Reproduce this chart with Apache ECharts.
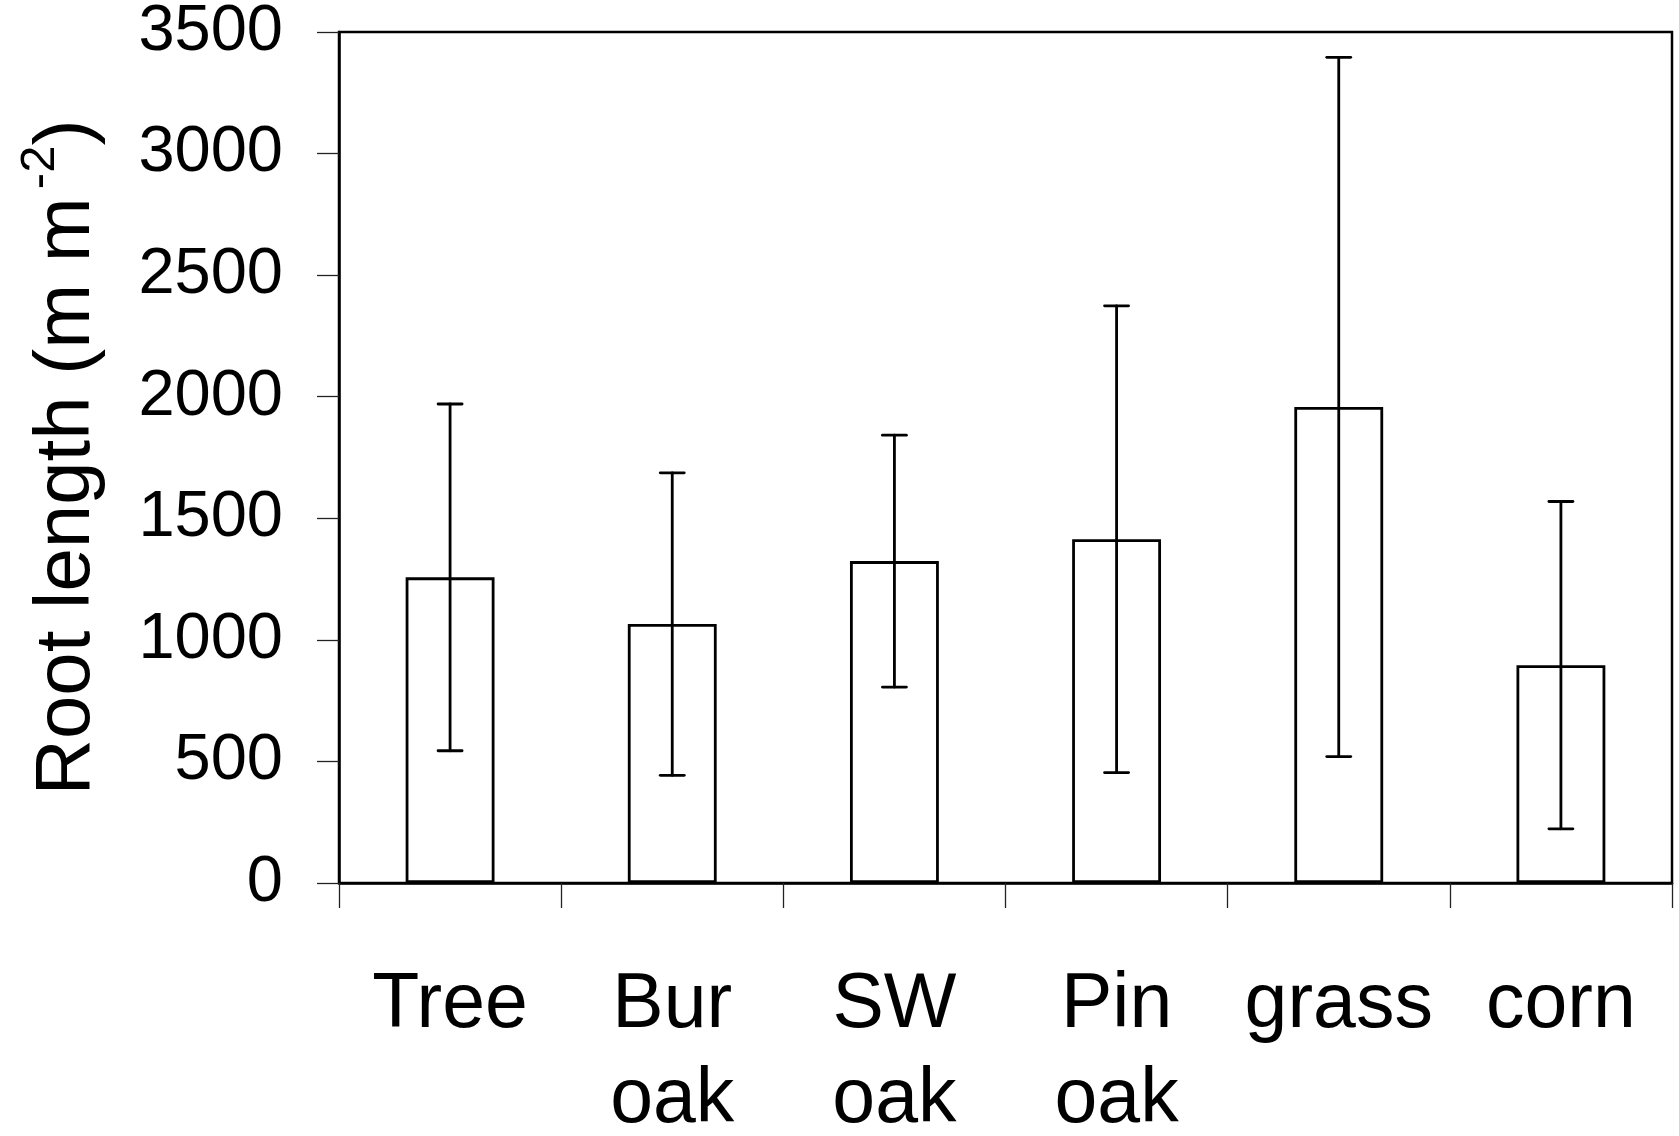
<!DOCTYPE html>
<html>
<head>
<meta charset="utf-8">
<style>
  html, body { margin: 0; padding: 0; background: #fff; }
  #chart { width: 1679px; height: 1136px; }
</style>
<script src="https://cdn.jsdelivr.net/npm/echarts@6/dist/echarts.min.js"></script>
</head>
<body>
<div id="chart"></div>
<script>
// Root length by vegetation type: mean with ± one standard deviation
const categories = ['Tree', 'Bur\noak', 'SW\noak', 'Pin\noak', 'grass', 'corn'];
const meanLength = [1257, 1065, 1324, 1414, 1958, 896];
const sdLength = [713, 622, 518, 960, 1438, 673];
const yTicks = { min: 0, max: 3500, interval: 500 };

const FONT = '"Liberation Sans", Arial, Helvetica, sans-serif';
const INK = '#000';

const errorData = categories.map((c, i) => [i, meanLength[i] - sdLength[i], meanLength[i] + sdLength[i]]);

const chart = echarts.init(document.getElementById('chart'), null, { renderer: 'canvas' });

chart.setOption({
  backgroundColor: '#fff',
  animation: false,
  grid: {
    left: 339, right: 7, top: 32, bottom: 253,
    outerBoundsMode: 'none',
    containLabel: false,
    show: true, borderColor: INK, borderWidth: 2.5, backgroundColor: 'transparent'
  },
  xAxis: {
    type: 'category',
    data: categories,
    boundaryGap: true,
    axisLine: { show: true, lineStyle: { color: INK, width: 2.5 } },
    axisTick: { show: true, inside: false, length: 25, lineStyle: { color: '#222', width: 1.3 } },
    axisLabel: {
      color: INK, fontFamily: FONT, fontSize: 77, lineHeight: 95,
      margin: 75, interval: 0, align: 'center'
    },
    splitLine: { show: false }
  },
  yAxis: {
    type: 'value',
    min: yTicks.min, max: yTicks.max, interval: yTicks.interval,
    axisLine: { show: true, lineStyle: { color: INK, width: 2.5 } },
    axisTick: { show: true, inside: false, length: 22, lineStyle: { color: '#222', width: 1.3 } },
    axisLabel: {
      color: INK, fontFamily: FONT, fontSize: 65, margin: 56,
      formatter: function (v) { return String(v); }
    },
    splitLine: { show: false },
    name: '{main|Root length (m m}{sup|-2}{main|)}',
    nameLocation: 'middle',
    nameRotate: 90,
    nameGap: 233,
    nameTextStyle: {
      fontFamily: FONT, color: INK,
      rich: {
        main: { fontFamily: FONT, fontSize: 78, lineHeight: 90, verticalAlign: 'bottom', color: INK },
        sup: { fontFamily: FONT, fontSize: 49, lineHeight: 34, verticalAlign: 'top', color: INK, padding: [0, 0, 0, 8] }
      }
    }
  },
  series: [
    {
      type: 'bar',
      data: meanLength,
      barWidth: '40%',
      itemStyle: { color: '#fff', borderColor: INK, borderWidth: 2.8 },
      z: 2
    },
    {
      type: 'custom',
      data: errorData,
      z: 3,
      renderItem: function (params, api) {
        const i = api.value(0);
        const top = api.coord([i, api.value(2)]);
        const bot = api.coord([i, api.value(1)]);
        const hw = 12;
        const st = { stroke: INK, lineWidth: 2.8, lineCap: 'round' };
        return {
          type: 'group',
          children: [
            { type: 'line', shape: { x1: top[0], y1: top[1], x2: bot[0], y2: bot[1] }, style: st },
            { type: 'line', shape: { x1: top[0] - hw, y1: top[1], x2: top[0] + hw, y2: top[1] }, style: st },
            { type: 'line', shape: { x1: bot[0] - hw, y1: bot[1], x2: bot[0] + hw, y2: bot[1] }, style: st }
          ]
        };
      }
    }
  ]
});
</script>
</body>
</html>
